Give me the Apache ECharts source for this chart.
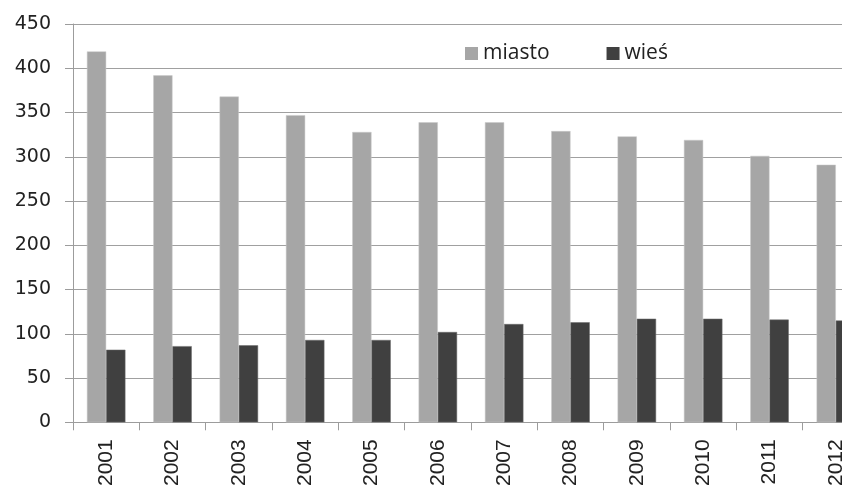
<!DOCTYPE html>
<html>
<head>
<meta charset="utf-8">
<script src="https://cdn.jsdelivr.net/npm/echarts@6/dist/echarts.min.js"></script>
<style>html,body{margin:0;padding:0;background:#fff;overflow:hidden;width:842px;height:489px;}#c{width:890px;height:489px;}</style>
</head>
<body>
<div id="c"></div>
<script>
var categories = ['2001','2002','2003','2004','2005','2006','2007','2008','2009','2010','2011','2012'];
var miasto = [419, 392, 368, 347, 328, 339, 339, 329, 323, 319, 301, 291];
var wies = [82, 86, 87, 93, 93, 102, 111, 113, 117, 117, 116, 115];
var seriesNames = ['miasto', 'wieś'];

var chart = echarts.init(document.getElementById('c'), null, {renderer: 'canvas'});
chart.setOption({
  animation: false,
  backgroundColor: '#ffffff',
  grid: {left: 73, top: 24, bottom: 63, right: 21, containLabel: false},
  legend: {
    data: seriesNames,
    left: 460, top: 38,
    itemWidth: 13, itemHeight: 13, itemGap: 57,
    icon: 'rect',
    itemStyle: {borderWidth: 0},
    textStyle: {fontFamily: 'Open Sans', fontSize: 21, color: '#222'}
  },
  xAxis: {
    type: 'category',
    data: categories,
    axisLine: {lineStyle: {color: '#9c9c9c', width: 1}},
    axisTick: {show: true, length: 8, lineStyle: {color: '#9c9c9c'}},
    axisLabel: {interval: 0, rotate: 90, margin: 17, fontFamily: 'Liberation Sans', fontSize: 21, color: '#222'}
  },
  yAxis: {
    type: 'value',
    min: 0, max: 450, interval: 50,
    axisLine: {show: true, lineStyle: {color: '#9c9c9c', width: 1}},
    axisTick: {show: true, length: 8, lineStyle: {color: '#9c9c9c'}},
    splitLine: {show: true, lineStyle: {color: '#a0a0a0', width: 1}},
    axisLabel: {margin: 22, fontFamily: 'DejaVu Sans', fontSize: 19, color: '#222'}
  },
  series: [
    {name: seriesNames[0], type: 'bar', data: miasto, barGap: '0%', barCategoryGap: '42%',
     itemStyle: {color: '#a6a6a6', borderColor: '#c8c8c8', borderWidth: 0.5}},
    {name: seriesNames[1], type: 'bar', data: wies, barGap: '0%', barCategoryGap: '42%',
     itemStyle: {color: '#404040', borderColor: '#6a6a6a', borderWidth: 0.5}}
  ]
});
</script>
</body>
</html>
